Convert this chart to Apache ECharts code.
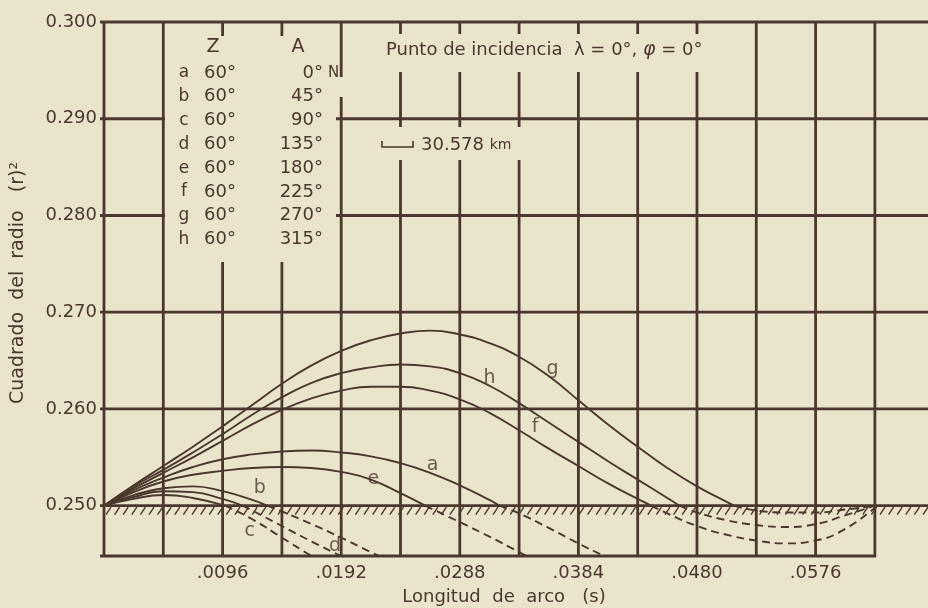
<!DOCTYPE html>
<html><head><meta charset="utf-8">
<script src="https://cdn.jsdelivr.net/npm/echarts@6/dist/echarts.min.js"></script>
<style>html,body{margin:0;padding:0;background:#ebe4cd}#c{width:928px;height:608px}</style>
</head><body><div id="c"></div>
<script>
// ---------------- data ----------------
const yTickValues = [0.25, 0.26, 0.27, 0.28, 0.29, 0.30];
const yTickLabels = ['0.250', '0.260', '0.270', '0.280', '0.290', '0.300'];
const xTickValues = [0.0096, 0.0192, 0.0288, 0.0384, 0.0480, 0.0576];
const xTickLabels = ['.0096', '.0192', '.0288', '.0384', '.0480', '.0576'];
const xGridValues = [0, 0.0048, 0.0096, 0.0144, 0.0192, 0.0240, 0.0288, 0.0336, 0.0384, 0.0432, 0.0480, 0.0528, 0.0576, 0.0624];

const legendKeys = ['a', 'b', 'c', 'd', 'e', 'f', 'g', 'h'];
const legendZ = [60, 60, 60, 60, 60, 60, 60, 60];
const legendA = [0, 45, 90, 135, 180, 225, 270, 315];

const curveA_solid = [[0,.2500],[.0024,.2516],[.0048,.2529],[.0072,.2540],[.0096,.2548],[.0120,.2553],[.0144,.2556],[.0168,.2557],[.0192,.2555],[.0216,.2551],[.0240,.2544],[.0264,.2534],[.0288,.2521],[.0312,.2506],[.0320,.2500]];
const curveA_dashed = [[.0320,.2500],[.0336,.2492],[.0360,.2477],[.0384,.2461],[.0408,.2446],[.0432,.2431]];
const curveB_solid = [[0,.2500],[.0024,.2511],[.0048,.2518],[.0072,.2520],[.0096,.2515],[.0120,.2506],[.0132,.2500]];
const curveB_dashed = [[.0132,.2500],[.0144,.2494],[.0168,.2481],[.0192,.2467],[.0216,.2452],[.0240,.2438]];
const curveC_solid = [[0,.2500],[.0024,.2507],[.0048,.2511],[.0072,.2508],[.0098,.2500]];
const curveC_dashed = [[.0098,.2500],[.0120,.2486],[.0144,.2467],[.0168,.2448],[.0192,.2430]];
const curveD_solid = [[0,.2500],[.0024,.2509],[.0048,.2515],[.0072,.2514],[.0096,.2507],[.0112,.2500]];
const curveD_dashed = [[.0112,.2500],[.0120,.2495],[.0144,.2479],[.0168,.2463],[.0192,.2448],[.0216,.2434]];
const curveE_solid = [[0,.2500],[.0024,.2514],[.0048,.2525],[.0072,.2532],[.0096,.2536],[.0120,.2539],[.0144,.2540],[.0168,.2539],[.0192,.2535],[.0216,.2527],[.0240,.2513],[.0260,.2500]];
const curveE_dashed = [[.0260,.2500],[.0288,.2483],[.0312,.2468],[.0336,.2452],[.0360,.2435]];
const curveF_solid = [[0,.2500],[.0024,.2518],[.0048,.2534],[.0072,.2550],[.0096,.2567],[.0120,.2584],[.0144,.2599],[.0168,.2611],[.0192,.2619],[.0216,.2623],[.0240,.2623],[.0264,.2619],[.0288,.2610],[.0312,.2596],[.0336,.2578],[.0360,.2559],[.0384,.2541],[.0408,.2523],[.0432,.2507],[.0443,.2500]];
const curveF_dashed = [[.0443,.2500],[.0456,.2492],[.0480,.2479],[.0504,.2470],[.0528,.2464],[.0552,.2461],[.0576,.2464],[.0600,.2476],[.0626,.2500]];
const curveG_solid = [[0,.2500],[.0024,.2521],[.0048,.2541],[.0072,.2561],[.0096,.2582],[.0120,.2604],[.0144,.2626],[.0168,.2645],[.0192,.2660],[.0216,.2671],[.0240,.2678],[.0264,.2681],[.0288,.2677],[.0312,.2668],[.0336,.2654],[.0360,.2634],[.0384,.2609],[.0408,.2584],[.0432,.2561],[.0456,.2539],[.0480,.2520],[.0504,.2504],[.0510,.2500]];
const curveG_dashed = [[.0510,.2500],[.0528,.2495],[.0552,.2493],[.0576,.2493],[.0600,.2496],[.0624,.2500]];
const curveH_solid = [[0,.2500],[.0024,.2520],[.0048,.2537],[.0072,.2555],[.0096,.2574],[.0120,.2594],[.0144,.2612],[.0168,.2627],[.0192,.2637],[.0216,.2643],[.0240,.2646],[.0264,.2644],[.0288,.2637],[.0312,.2624],[.0336,.2606],[.0360,.2586],[.0384,.2566],[.0408,.2546],[.0432,.2527],[.0456,.2508],[.0466,.2500]];
const curveH_dashed = [[.0466,.2500],[.0480,.2493],[.0504,.2485],[.0528,.2480],[.0552,.2478],[.0576,.2481],[.0600,.2490],[.0624,.2500]];

// ---------------- chart ----------------
const PAPER = '#ebe4cd';
const INK = '#4a382c';
const FONT = '"DejaVu Sans", sans-serif';
const X_MIN = 0, X_MAX = 0.0667, Y_MIN = 0.2448, Y_MAX = 0.300;
const BASE = 0.25;

const curves = [
  { key: 'a', solid: curveA_solid, dashed: curveA_dashed, label: [0.0266, 0.2542] },
  { key: 'b', solid: curveB_solid, dashed: curveB_dashed, label: [0.0126, 0.2518] },
  { key: 'c', solid: curveC_solid, dashed: curveC_dashed, label: [0.0118, 0.2474] },
  { key: 'd', solid: curveD_solid, dashed: curveD_dashed, label: [0.0187, 0.2458] },
  { key: 'e', solid: curveE_solid, dashed: curveE_dashed, label: [0.0218, 0.2528] },
  { key: 'f', solid: curveF_solid, dashed: curveF_dashed, label: [0.0349, 0.2581] },
  { key: 'g', solid: curveG_solid, dashed: curveG_dashed, label: [0.0363, 0.2641] },
  { key: 'h', solid: curveH_solid, dashed: curveH_dashed, label: [0.0312, 0.2632] }
];

const series = [];
// horizontal grid lines + bottom frame
const hLines = yTickValues.map(v => [v, X_MIN, X_MAX]);
hLines.push([Y_MIN, X_MIN, xGridValues[xGridValues.length - 1]]);
series.push({
  type: 'custom', name: 'hgrid', silent: true, z: 1,
  encode: { x: [1, 2], y: 0 },
  data: hLines,
  renderItem: (params, api) => {
    const a = api.coord([api.value(1), api.value(0)]);
    const b = api.coord([api.value(2), api.value(0)]);
    return { type: 'line', shape: { x1: a[0] - 4, y1: a[1], x2: b[0] + 1, y2: b[1] },
      style: { stroke: INK, lineWidth: 2.8 } };
  }
});
series.push({
  type: 'custom', name: 'vgrid', silent: true, z: 1,
  encode: { x: 0, y: [1, 2] },
  data: xGridValues.map(s => [s, Y_MIN, Y_MAX]),
  renderItem: (params, api) => {
    const a = api.coord([api.value(0), api.value(1)]);
    const b = api.coord([api.value(0), api.value(2)]);
    return { type: 'line', shape: { x1: a[0], y1: a[1] + 1, x2: b[0], y2: b[1] - 1 },
      style: { stroke: INK, lineWidth: 2.8 } };
  }
});
// hatching below the 0.250 line
series.push({
  type: 'custom', name: 'hatch', silent: true, z: 2,
  encode: { x: [0, 1], y: 2 },
  data: [[X_MIN, X_MAX, BASE]],
  renderItem: (params, api) => {
    const a = api.coord([api.value(0), api.value(2)]);
    const b = api.coord([api.value(1), api.value(2)]);
    const children = [];
    for (let x = a[0] + 2; x < b[0]; x += 8.6) {
      children.push({ type: 'line', shape: { x1: x, y1: a[1] + 9, x2: x + 5, y2: a[1] + 1.5 },
        style: { stroke: INK, lineWidth: 1.4 } });
    }
    return { type: 'group', children };
  }
});
curves.forEach(c => {
  series.push({
    type: 'line', name: c.key, data: c.solid, smooth: 0.5, showSymbol: false, silent: true, z: 3,
    lineStyle: { color: INK, width: 1.9 }
  });
  series.push({
    type: 'line', name: c.key + '-', data: c.dashed, smooth: 0.5, showSymbol: false, silent: true, z: 3,
    lineStyle: { color: INK, width: 1.9, type: [8, 5] }
  });
});
series.push({
  type: 'scatter', name: 'labels', silent: true, z: 5, symbolSize: 0,
  data: curves.map(c => ({ value: c.label, name: c.key })),
  label: { show: true, position: 'inside', formatter: p => p.name, color: INK, fontSize: 19, fontFamily: FONT }
});

// legend table, title, scale note (text on paper patches that break the grid)
const graphic = [];
const patch = (x, y, w, h) => graphic.push({ type: 'rect', z: 100, silent: true,
  shape: { x, y, width: w, height: h }, style: { fill: PAPER } });
patch(165, 36, 171, 226);
patch(336, 77, 12, 20);
patch(380, 34, 350, 38);
patch(376, 127, 148, 33);
const txt = (text, x, y, size, align) => graphic.push({ type: 'text', z: 101, silent: true, x, y,
  style: { text, fill: INK, font: size + 'px ' + FONT, align: align || 'left', verticalAlign: 'middle' } });
txt('Z', 213, 47, 19, 'center');
txt('A', 298, 47, 19, 'center');
legendKeys.forEach((k, i) => {
  const y = 73 + i * 23.8;
  txt(k, 184, y, 17, 'center');
  txt(legendZ[i] + '°', 204, y, 18, 'left');
  txt(legendA[i] + '°', 323, y, 18, 'right');
});
txt('N', 328, 73, 15, 'left');
graphic.push({ type: 'text', z: 101, silent: true, x: 386, y: 50,
  style: { text: 'Punto de incidencia  λ = 0°, {it|φ} = 0°', fill: INK, font: '18px ' + FONT, verticalAlign: 'middle',
    rich: { it: { fontStyle: 'italic', fontSize: 19, fontFamily: FONT, fill: INK } } } });
graphic.push({ type: 'polyline', z: 101, silent: true,
  shape: { points: [[382, 141], [382, 147], [413, 147], [413, 141]] }, style: { stroke: INK, lineWidth: 1.6, fill: null } });
graphic.push({ type: 'text', z: 101, silent: true, x: 421, y: 145,
  style: { text: '30.578 {k|km}', fill: INK, font: '18px ' + FONT, verticalAlign: 'middle',
    rich: { k: { fontSize: 14, fontFamily: FONT, fill: INK } } } });
graphic.push({ type: 'text', z: 101, silent: true, x: 18, y: 283, rotation: Math.PI / 2,
  style: { text: 'Cuadrado  del  radio   (r)²', fill: INK, font: '19px ' + FONT, align: 'center', verticalAlign: 'middle' } });
graphic.push({ type: 'text', z: 101, silent: true, x: 504, y: 597,
  style: { text: 'Longitud  de  arco   (s)', fill: INK, font: '18px ' + FONT, align: 'center', verticalAlign: 'middle' } });

const nearestLabel = (vals, labels, v) => {
  let best = 0;
  vals.forEach((t, i) => { if (Math.abs(t - v) < Math.abs(vals[best] - v)) best = i; });
  return labels[best];
};

const chart = echarts.init(document.getElementById('c'));
chart.setOption({
  backgroundColor: PAPER,
  animation: false,
  grid: { left: 104, right: 0, top: 22, bottom: 52 },
  xAxis: {
    type: 'value', min: X_MIN, max: X_MAX,
    axisLine: { show: false }, axisTick: { show: false }, splitLine: { show: false },
    axisLabel: { customValues: xTickValues, formatter: v => nearestLabel(xTickValues, xTickLabels, v),
      color: INK, fontSize: 18, fontFamily: FONT, margin: 8 }
  },
  yAxis: {
    type: 'value', min: Y_MIN, max: Y_MAX,
    axisLine: { show: false }, axisTick: { show: false }, splitLine: { show: false },
    axisLabel: { customValues: yTickValues, formatter: v => nearestLabel(yTickValues, yTickLabels, v),
      color: INK, fontSize: 18, fontFamily: FONT, margin: 7 }
  },
  series,
  graphic
});
</script></body></html>
